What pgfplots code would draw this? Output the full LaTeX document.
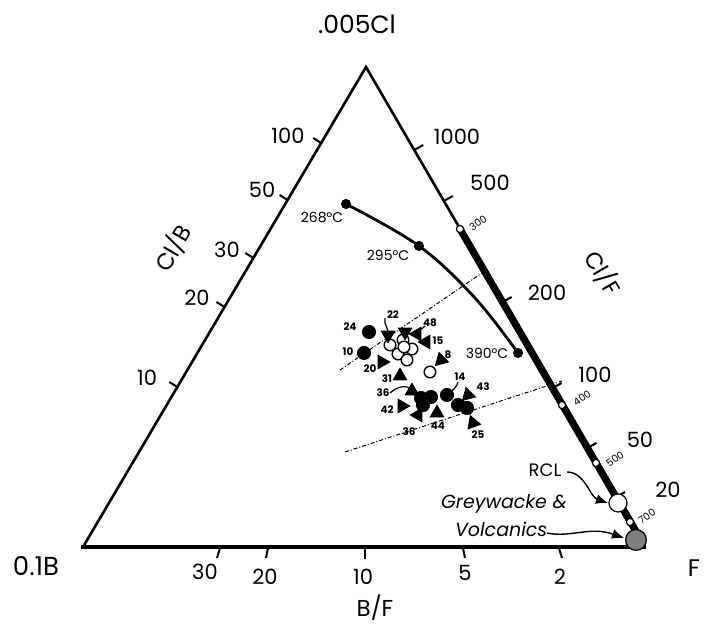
\documentclass[border=0pt]{standalone}
\usepackage{fontspec}
\setmainfont{Poppins}
\usepackage{pgfplots}
\pgfplotsset{compat=1.18}
\usetikzlibrary{arrows.meta}
\newcommand\fs[1]{\fontsize{#1}{#1}\selectfont}

\begin{document}
\begin{tikzpicture}
\begin{axis}[width=354.5pt, height=310pt, scale only axis, hide axis, clip=false,
  xmin=0, xmax=709, ymin=0, ymax=620, y dir=reverse]
\path (axis cs:0,0) rectangle (axis cs:709,620);

% triangle frame
\addplot[black, line width=1.3pt, line join=miter] coordinates {(83,547) (366,67) (645,547)};
\addplot[black, line width=2pt] coordinates {(81,547) (646,547)};
% heavy segment on Cl/F edge
\addplot[black, line width=3.6pt] coordinates {(460,229) (641,540)};

% edge ticks
\foreach \y in {143,200,258,307,387}{
  \edef\tmp{\noexpand\draw[line width=1pt] (axis cs:{83+(547-\y)*0.5896},\y) -- ++(axis direction cs:-8,-5);}\tmp}
\foreach \y in {150,201,302,388,448,497}{
  \edef\tmp{\noexpand\draw[line width=1pt] (axis cs:{366+(\y-67)*0.5813},\y) -- ++(axis direction cs:9,-5);}\tmp}
\draw[line width=1pt] (axis cs:220,548) -- (axis cs:217,558);
\draw[line width=1pt] (axis cs:268,548) -- (axis cs:266,558);
\draw[line width=1pt] (axis cs:365,548) -- (axis cs:365,559);
\draw[line width=1pt] (axis cs:463,548) -- (axis cs:465,558);
\draw[line width=1pt] (axis cs:559,548) -- (axis cs:562,558);

% dash-dot guide lines
\addplot[black, line width=0.5pt, dash pattern=on 2pt off 1pt on 0.5pt off 1pt] coordinates {(340,370) (482,273)};
\addplot[black, line width=0.5pt, dash pattern=on 2pt off 1pt on 0.5pt off 1pt] coordinates {(345,452) (562,381)};

% temperature path
\addplot[black, line width=1.4pt, smooth, tension=0.6] coordinates {(346,204) (419,246) (475,298) (518,353)};
\addplot[only marks, mark=*, mark size=2.3pt, black] coordinates {(346,204) (419,246) (518,353)};

% white points on heavy segment
\addplot[only marks, mark=*, mark size=1.8pt, mark options={fill=white, draw=black, line width=0.6pt}] coordinates {(460,229) (562,405) (596,463) (630,522)};
% RCL and greywacke
\addplot[only marks, mark=*, mark size=4.5pt, mark options={fill=white, draw=black, line width=0.6pt}] coordinates {(618,503)};
\addplot[only marks, mark=*, mark size=5.2pt, mark options={fill=gray!55!black!70, draw=black, line width=0.6pt}] coordinates {(636,540)};

% samples: filled circles
\addplot[only marks, mark=*, mark size=3.3pt, black] coordinates {(369,332) (364,353) (421,398) (431,397) (423,405) (447,395) (458,405) (467,408)};
% open circles
\addplot[only marks, mark=*, mark size=2.9pt, mark options={fill=white, draw=black, line width=0.7pt}] coordinates {(390,345) (403,340) (412,349) (398,354) (407,360) (404,347) (430,372)};
% triangles in several orientations
\addplot[only marks, mark=triangle*, mark size=3.9pt, black] coordinates {(400,376) (437,413) (412,391)};
\addplot[only marks, mark=triangle*, mark size=3.9pt, black, mark options={rotate=180}] coordinates {(388,335) (405,332)};
\addplot[only marks, mark=triangle*, mark size=3.9pt, black, mark options={rotate=90}] coordinates {(426,342) (417,334)};
\addplot[only marks, mark=triangle*, mark size=3.9pt, black, mark options={rotate=135}] coordinates {(441,360) (468,395)};
\addplot[only marks, mark=triangle*, mark size=3.9pt, black, mark options={rotate=-90}] coordinates {(382,362) (402,406)};
\addplot[only marks, mark=triangle*, mark size=3.9pt, black, mark options={rotate=-30}] coordinates {(418,415)};
\addplot[only marks, mark=triangle*, mark size=3.9pt, black, mark options={rotate=20}] coordinates {(473,423)};

% leaders
\draw[line width=0.6pt] (axis cs:385,318) -- (axis cs:385,323) -- (axis cs:388,331);
\draw[line width=0.6pt] (axis cs:425,326) -- (axis cs:419,331);
\draw[line width=0.6pt] (axis cs:390,393) .. controls (axis cs:398,386) and (axis cs:406,385) .. (axis cs:411,389);
\draw[line width=0.6pt] (axis cs:458,382) .. controls (axis cs:457,387) and (axis cs:453,390) .. (axis cs:450,392);
\draw[line width=0.7pt, -{Latex[length=6pt,width=5pt]}] (axis cs:567,472) .. controls (axis cs:585,472) and (axis cs:590,497) .. (axis cs:608,503);
\draw[line width=0.7pt, -{Latex[length=6pt,width=5pt]}] (axis cs:547,533) .. controls (axis cs:570,538) and (axis cs:590,526) .. (axis cs:624,538);

% vertex and axis labels
\node[font=\fs{12.5}] at (axis cs:357,24) {.005Cl};
\node[font=\fs{13}] at (axis cs:36,566) {0.1B};
\node[font=\fs{12}] at (axis cs:694,568) {F};
\node[font=\fs{11.5}] at (axis cs:375,608) {B/F};
\node[font=\fs{11.5}, rotate=60] at (axis cs:173,248) {Cl/B};
\node[font=\fs{11.5}, rotate=-60] at (axis cs:603,273) {Cl/F};

% tick labels
\node[font=\fs{10.5}] at (axis cs:288,136) {100};
\node[font=\fs{10.5}] at (axis cs:262,190) {50};
\node[font=\fs{10.5}] at (axis cs:227,250) {30};
\node[font=\fs{10.5}] at (axis cs:197,298) {20};
\node[font=\fs{10.5}] at (axis cs:147,378) {10};
\node[font=\fs{10.5}] at (axis cs:457,137) {1000};
\node[font=\fs{10.5}] at (axis cs:490,183) {500};
\node[font=\fs{10.5}] at (axis cs:547,293) {200};
\node[font=\fs{10.5}] at (axis cs:595,375) {100};
\node[font=\fs{10.5}] at (axis cs:640,440) {50};
\node[font=\fs{10.5}] at (axis cs:668,490) {20};
\node[font=\fs{10.5}] at (axis cs:205,572) {30};
\node[font=\fs{10.5}] at (axis cs:265,577) {20};
\node[font=\fs{10.5}] at (axis cs:363,577) {10};
\node[font=\fs{10.5}] at (axis cs:465,573) {5};
\node[font=\fs{10.5}] at (axis cs:560,577) {2};
\node[font=\fs{5}, rotate=35] at (axis cs:478,223) {300};
\node[font=\fs{5}, rotate=35] at (axis cs:582,398) {400};
\node[font=\fs{5}, rotate=35] at (axis cs:615,459) {500};
\node[font=\fs{5}, rotate=35] at (axis cs:647,516) {700};

% temperatures and annotations
\node[font=\fs{7}] at (axis cs:322,217) {268°C};
\node[font=\fs{7}] at (axis cs:388,255) {295°C};
\node[font=\fs{7}] at (axis cs:487,353) {390°C};
\node[font=\fs{9}] at (axis cs:545,470) {RCL};
\node[font=\fs{9.5}\itshape, anchor=east] at (axis cs:574,504) {Greywacke \&};
\node[font=\fs{9.5}\itshape, anchor=west] at (axis cs:448,529) {Volcanics};

% sample numbers
\foreach \t/\x/\y in {24/350/327, 10/348/352, 22/393/315, 48/430/323, 15/438/341, 20/370/369, 31/387/379, 8/448/355,
                      36/383/393, 14/460/377, 43/483/387, 42/387/410, 36/409/432, 44/438/426, 25/478/435}{
  \edef\tmp{\noexpand\node[font=\noexpand\fs{5.2}\noexpand\bfseries] at (axis cs:\x,\y) {\t};}\tmp}
\end{axis}
\end{tikzpicture}
\end{document}
